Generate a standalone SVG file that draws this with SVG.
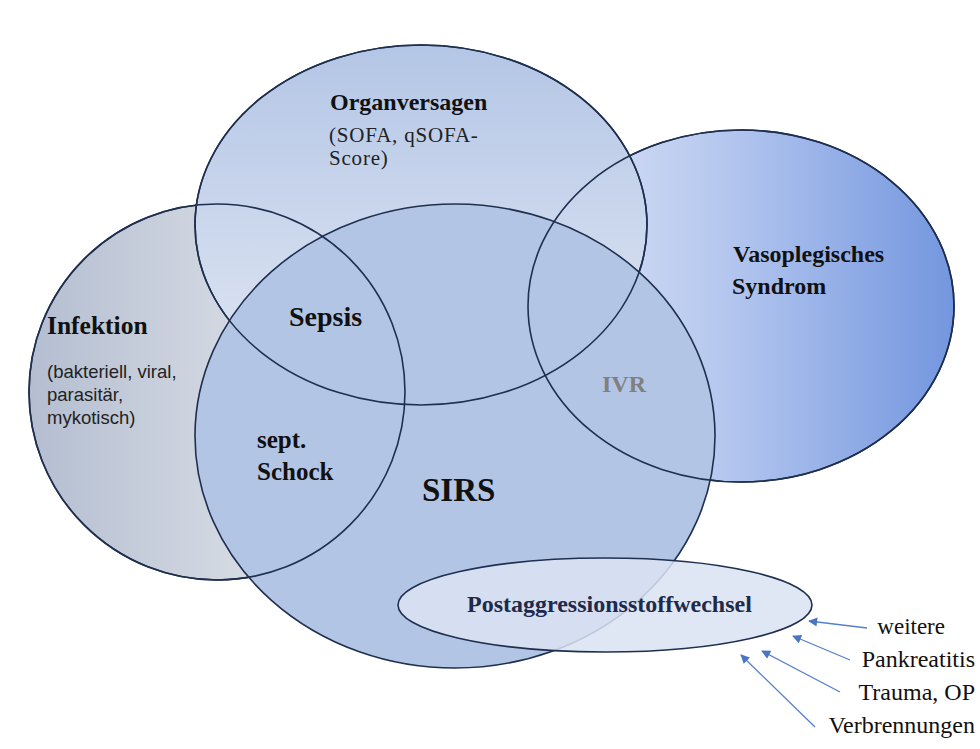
<svg xmlns="http://www.w3.org/2000/svg" width="980" height="749" viewBox="0 0 980 749">
  <defs>
    <linearGradient id="gInf" x1="0" y1="0" x2="1" y2="0">
      <stop offset="0" stop-color="#b4bed1"/>
      <stop offset="0.55" stop-color="#d4d9e2"/>
      <stop offset="1" stop-color="#e2e5eb"/>
    </linearGradient>
    <linearGradient id="gOrg" x1="0" y1="0" x2="0" y2="1">
      <stop offset="0" stop-color="#b4c6e6"/>
      <stop offset="1" stop-color="#e2e8f3"/>
    </linearGradient>
    <linearGradient id="gVaso" x1="0" y1="0" x2="1" y2="0">
      <stop offset="0" stop-color="#e0e7f6"/>
      <stop offset="0.45" stop-color="#b6c8ef"/>
      <stop offset="1" stop-color="#7396df"/>
    </linearGradient>
    <marker id="arr" viewBox="0 0 10 10" refX="9" refY="5" markerWidth="11" markerHeight="9" orient="auto" markerUnits="userSpaceOnUse">
      <path d="M0,0 L10,5 L0,10 z" fill="#4a74c4"/>
    </marker>
    <style>
      .ring { stroke: #1f2f4f; stroke-width: 1.6; }
      .outline { fill: none; stroke: #1f2f4f; stroke-width: 1.6; }
      .hd { font-family: "Liberation Serif", "Times New Roman", serif; font-weight: bold; fill: #111; }
      .sub { font-family: "Liberation Serif", "Times New Roman", serif; fill: #222; }
      .cal { font-family: "Liberation Sans", Arial, sans-serif; fill: #222; }
      .lbl { font-family: "Liberation Serif", "Times New Roman", serif; fill: #111; font-size: 24px; text-anchor: end; }
      .arrow { stroke: #5580cc; stroke-width: 1.3; fill: none; marker-end: url(#arr); }
    </style>
  </defs>

  <rect width="980" height="749" fill="#ffffff"/>

  <g id="infektion">
    <circle cx="217" cy="392" r="188" fill="url(#gInf)" class="ring"/>
    <text class="hd" x="47" y="334" font-size="25.5">Infektion</text>
    <text class="cal" font-size="18.5">
      <tspan x="47" y="378">(bakteriell, viral,</tspan>
      <tspan x="47" y="401">parasitär,</tspan>
      <tspan x="47" y="424">mykotisch)</tspan>
    </text>
  </g>

  <g id="vasoplegie">
    <ellipse cx="741" cy="306" rx="213" ry="176" fill="url(#gVaso)" class="ring"/>
  </g>

  <g id="organversagen">
    <ellipse cx="421" cy="225" rx="226" ry="180" fill="url(#gOrg)" class="ring"/>
  </g>

  <g id="sirs">
    <ellipse cx="455" cy="436" rx="260" ry="232" fill="#b3c5e5" class="ring"/>
  </g>

  <!-- outlines redrawn so every ring stays visible through the overlaps -->
  <g id="outlines">
    <circle cx="217" cy="392" r="188" class="outline"/>
    <ellipse cx="741" cy="306" rx="213" ry="176" class="outline"/>
    <ellipse cx="421" cy="225" rx="226" ry="180" class="outline"/>
  </g>

  <g id="labels">
    <text class="hd" x="330" y="110" font-size="24">Organversagen</text>
    <text class="sub" font-size="21" letter-spacing="0.8">
      <tspan x="329" y="142">(SOFA, qSOFA-</tspan>
      <tspan x="329" y="165">Score)</tspan>
    </text>
    <text class="hd" x="289" y="326" font-size="28">Sepsis</text>
    <text class="hd" font-size="25">
      <tspan x="257" y="448">sept.</tspan>
      <tspan x="257" y="480">Schock</tspan>
    </text>
    <text class="hd" x="422" y="501" font-size="33">SIRS</text>
    <text class="hd" x="602" y="392" font-size="24" style="fill:#808080">IVR</text>
    <text class="hd" font-size="24">
      <tspan x="733" y="262">Vasoplegisches</tspan>
      <tspan x="732" y="294">Syndrom</tspan>
    </text>
  </g>

  <g id="postaggression">
    <ellipse cx="605" cy="605" rx="207" ry="47" fill="#dbe3f2" fill-opacity="0.86" class="ring"/>
    <text class="hd" x="467" y="612" font-size="24" style="fill:#1f2a4a">Postaggressionsstoffwechsel</text>
  </g>

  <g id="connectors">
    <line class="arrow" x1="867" y1="628" x2="809" y2="621"/>
    <line class="arrow" x1="850" y1="660" x2="793" y2="636"/>
    <line class="arrow" x1="840" y1="692" x2="762" y2="651"/>
    <line class="arrow" x1="815" y1="727" x2="741" y2="655"/>
  </g>

  <g id="causes">
    <text class="lbl" x="945" y="634" style="font-size:23px">weitere</text>
    <text class="lbl" x="975" y="667">Pankreatitis</text>
    <text class="lbl" x="975" y="700">Trauma, OP</text>
    <text class="lbl" x="975" y="733">Verbrennungen</text>
  </g>
</svg>
